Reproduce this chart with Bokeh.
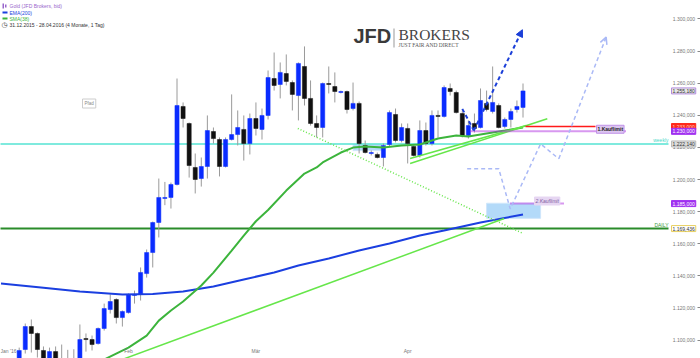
import numpy as np
from bokeh.plotting import figure
from bokeh.models import (LinearAxis, FixedTicker, Label, BoxAnnotation, Arrow,
                          NormalHead, OpenHead, Range1d)
from bokeh.core.properties import value
from bokeh.embed import file_html
from bokeh.resources import INLINE

# ---------------- data ----------------
bar_idx = list(range(87))
opens = [1062, 1061, 1075, 1080, 1094.1, 1108.4, 1104.1, 1093.5, 1085, 1092.8,
         1084, 1087, 1085, 1086, 1100.9, 1100.3, 1097.8, 1107.2, 1119.0, 1125.2,
         1114.0, 1117.1, 1127.8, 1128.4, 1141.4, 1154.5, 1173.2, 1188.2, 1188.8, 1196.9,
         1245.5, 1234.9, 1207.5, 1200.6, 1208.1, 1229.9, 1224.9, 1208.1, 1224.9, 1228.0,
         1231.2, 1222.4, 1238.0, 1231.2, 1239.9, 1262.9, 1259.2, 1266.0, 1260.4, 1252.3,
         1270.4, 1250.5, 1234.9, 1232.4, 1259.8, 1257.9, 1254.2, 1254.8, 1244.2, 1247.4,
         1221.2, 1216.2, 1215.6, 1213.7, 1221.8, 1240.5, 1224.3, 1231.8, 1220.6, 1215.0,
         1230.5, 1222.4, 1239.9, 1239.3, 1256.7, 1254.2, 1241.1, 1227.4, 1234.9, 1232.4,
         1247.4, 1242.4, 1246.1, 1233.0, 1237.4, 1243.6, 1244.9]
highs = [1066, 1079, 1084, 1095.3, 1110.3, 1112.8, 1104.7, 1096.0, 1095.3, 1096.0,
         1097.2, 1093.9, 1094.3, 1109.7, 1104.1, 1102.8, 1107.8, 1122.7, 1128.4, 1126.0,
         1118.4, 1129.0, 1130.8, 1145.2, 1156.4, 1173.8, 1200.6, 1198.5, 1198.1, 1262.9,
         1248.0, 1235.5, 1216.2, 1213.7, 1239.9, 1232.4, 1226.2, 1226.2, 1253.0, 1243.0,
         1239.9, 1241.1, 1248.0, 1244.2, 1267.9, 1279.1, 1272.9, 1277.9, 1261.7, 1272.9,
         1282.9, 1261.7, 1239.9, 1260.4, 1270.4, 1266.7, 1255.4, 1255.4, 1260.4, 1248.6,
         1224.3, 1218.1, 1216.8, 1222.4, 1243.0, 1244.2, 1234.9, 1234.9, 1221.2, 1236.8,
         1235.5, 1243.0, 1243.0, 1258.6, 1259.8, 1255.4, 1243.0, 1236.8, 1241.1, 1256.7,
         1255.4, 1270.4, 1247.4, 1238.6, 1244.2, 1249.2, 1259.8]
lows = [1058, 1059, 1072, 1078, 1091.6, 1092.2, 1089.1, 1083, 1083, 1082,
        1080, 1080, 1081, 1082, 1092.8, 1093.5, 1097.2, 1105.9, 1116.5, 1110.3,
        1108.4, 1116.5, 1122.7, 1124.6, 1138.9, 1145.2, 1163.9, 1184.0, 1181.9, 1196.3,
        1232.4, 1201.2, 1191.3, 1195.6, 1200.6, 1222.4, 1201.9, 1207.5, 1224.3, 1221.2,
        1211.8, 1215.6, 1227.4, 1224.9, 1237.4, 1255.4, 1250.5, 1258.6, 1243.0, 1236.8,
        1246.1, 1233.6, 1226.2, 1226.2, 1253.6, 1248.0, 1253.6, 1241.1, 1243.0, 1216.2,
        1216.2, 1215.0, 1213.1, 1208.1, 1220.6, 1223.1, 1223.1, 1210.0, 1214.3, 1213.7,
        1221.2, 1221.2, 1226.2, 1238.6, 1252.3, 1241.1, 1226.2, 1225.5, 1229.3, 1231.8,
        1242.4, 1241.1, 1231.8, 1231.8, 1232.4, 1241.7, 1238.6]
closes = [1061, 1075, 1079, 1093.5, 1108.4, 1104.1, 1094.1, 1086, 1092.8, 1086,
          1087, 1085, 1087, 1100.3, 1100.3, 1097.2, 1107.2, 1119.6, 1124.0, 1114.0,
          1117.8, 1128.4, 1128.4, 1142.1, 1154.5, 1173.2, 1188.8, 1188.8, 1196.9, 1246.1,
          1238.0, 1208.7, 1200.0, 1208.1, 1230.5, 1225.5, 1208.1, 1224.9, 1228.0, 1232.4,
          1222.4, 1238.0, 1231.8, 1239.9, 1263.5, 1258.6, 1266.7, 1261.1, 1253.0, 1272.3,
          1250.5, 1234.9, 1232.4, 1259.8, 1259.2, 1254.8, 1254.8, 1243.6, 1247.4, 1222.4,
          1216.8, 1216.8, 1213.7, 1221.2, 1241.7, 1224.3, 1232.4, 1222.4, 1215.0, 1230.5,
          1222.4, 1239.9, 1239.3, 1257.3, 1254.8, 1241.7, 1227.4, 1233.6, 1231.8, 1249.2,
          1243.6, 1248.0, 1232.4, 1237.4, 1242.4, 1245.5, 1255.2]

ema_idx = [0, 7, 13, 20, 25, 30, 35, 40, 45, 49, 54, 59, 64, 69, 73, 79, 86]
ema_val = [1135.2, 1132.5, 1130.2, 1128.3, 1128.7, 1130.2, 1133.3, 1137.7, 1142.1,
           1146.4, 1150.8, 1155.8, 1160.1, 1165.1, 1168.2, 1173.2, 1178.2]

sma_idx = [16, 21, 24, 26, 28, 30, 33, 35, 38, 40, 42, 44, 47, 50, 52, 53, 56, 58,
           60, 63, 66, 69, 72, 75, 77, 80, 83, 86]
sma_val = [1086.0, 1095.3, 1102.8, 1112.1, 1118.4, 1124.0, 1134.0, 1142.0, 1155.7,
           1165.0, 1174.0, 1181.0, 1193.1, 1203.7, 1207.5, 1210.6, 1216.8, 1219.9,
           1220.5, 1219.9, 1221.2, 1221.8, 1225.5, 1227.4, 1226.8, 1228.7, 1230.5, 1232.4]

# horizontal levels
weekly_level = 1222.14
daily_level = 1169.436
limit1_level = 1230.0
limit1_red = 1233.0
limit2_level = 1185.0
last_price = 1255.18

# trend lines (bar index, price)
trend_long = ([20.0, 82.9], [1087.9, 1175.7])
trend_dotted = ([48.9, 86.0], [1231.8, 1166.4])
trend_a = ([67.4, 90.0], [1210.0, 1237.8])
trend_b = ([67.4, 86.5], [1213.1, 1233.6])

# projection paths (bar index, price)
proj_blue_x = [76.0, 77.9]
proj_blue_y = [1244.0, 1230.5]
proj_blue_tip = (85.9, 1293.3)
proj_light_x = [76.8, 82.0, 83.9, 88.9, 91.9]
proj_light_y = [1206.7, 1206.7, 1181.7, 1222.2, 1212.9]
proj_light_tip = (99.7, 1288.7)

# zones (bar index, price)
zone_left = [58.0, 80.0]
zone_right = [62.7, 88.9]
zone_bottom = [1218.0, 1175.8]
zone_top = [1221.8, 1185.2]

x_tick_pos = [1.2, 21, 42, 67]
x_tick_labels = ["Jan '16", "Feb", "Mär", "Apr"]
y_ticks = [1100, 1120, 1140, 1160, 1180, 1200, 1220, 1240, 1260, 1280, 1300]
y_tick_labels = ["1.100,000", "1.120,000", "1.140,000", "1.160,000", "1.180,000",
                 "1.200,000", "1.220,000", "1.240,000", "1.260,000", "1.280,000",
                 "1.300,000"]

# ---------------- layout helpers ----------------
W, H = 700, 358
PX = 6.07
X0 = -0.08
def xi(px):
    return X0 + px / PX
def sy(py):
    return H - py

FONT = "Liberation Sans"

p = figure(width=W, height=H, output_backend="svg", toolbar_location=None,
           x_axis_location=None, y_axis_location=None,
           x_range=Range1d(X0, X0 + W / PX), y_range=Range1d(1088.5, 1311.5),
           min_border=0, outline_line_color=None, background_fill_color="white")
p.xgrid.visible = False
p.ygrid.visible = False

yax = LinearAxis(fixed_location=xi(699.5), ticker=FixedTicker(ticks=y_ticks),
                 major_label_overrides=dict(zip(y_ticks, y_tick_labels)),
                 axis_line_color="#c8c8c8", major_tick_line_color="#888888",
                 major_tick_out=3, major_tick_in=0, minor_tick_line_color=None,
                 major_label_text_font_size="5px", major_label_text_color="#777777",
                 major_label_text_font=FONT, major_label_standoff=2)
p.add_layout(yax, "left")

xax = LinearAxis(fixed_location=1095.5, ticker=FixedTicker(ticks=x_tick_pos),
                 major_label_overrides=dict(zip(x_tick_pos, x_tick_labels)),
                 axis_line_color=None, major_tick_line_color=None,
                 major_tick_out=0, major_tick_in=0,
                 minor_tick_line_color=None, minor_tick_out=0, minor_tick_in=0,
                 major_label_text_font_size="5px",
                 major_label_text_color="#777777", major_label_text_font=FONT,
                 major_label_standoff=1)
p.add_layout(xax, "below")

# zones
p.quad(left=zone_left, right=zone_right, bottom=zone_bottom, top=zone_top,
       fill_color="#a6d4f8", fill_alpha=0.85, line_color="#cfe6fb")

# horizontal levels
p.segment(x0=[X0 - 1], y0=[weekly_level], x1=[xi(668)], y1=[weekly_level],
          line_color="#55e3d3", line_width=1.5)
p.segment(x0=[X0 - 1], y0=[daily_level], x1=[xi(668)], y1=[daily_level],
          line_color="#2a8c2a", line_width=2)

# candles
tops = [max(o, c) for o, c in zip(opens, closes)]
bots = [min(o, c) for o, c in zip(opens, closes)]
bots = [b if t - b > 0.6 else t - 0.6 for t, b in zip(tops, bots)]
cols = ["#0a2cff" if c >= o else "#111111" for o, c in zip(opens, closes)]
p.segment(x0=bar_idx, y0=highs, x1=bar_idx, y1=lows, line_color="#9a9a9a", line_width=1)
p.vbar(x=bar_idx, width=0.68, top=tops, bottom=bots, fill_color=cols, line_color=cols,
       line_width=0.5)

# moving averages
p.line(ema_idx, ema_val, line_color="#1b3fe0", line_width=2)
p.line(sma_idx, sma_val, line_color="#3cb43c", line_width=2)

# trend lines
p.line(*trend_long, line_color="#66e64a", line_width=1.5)
p.line(*trend_dotted, line_color="#66e64a", line_width=1.5, line_dash="1 2")
p.line(*trend_a, line_color="#66e64a", line_width=1.5)
p.line(*trend_b, line_color="#66e64a", line_width=1.5)

# limit lines
p.segment(x0=[xi(525)], y0=[limit1_red], x1=[xi(595)], y1=[limit1_red],
          line_color="#ff1a1a", line_width=1.5)
p.segment(x0=[xi(470)], y0=[limit1_level], x1=[xi(625)], y1=[limit1_level],
          line_color="#b030e0", line_width=2, line_dash="1 1")
p.segment(x0=[xi(510)], y0=[limit2_level], x1=[xi(563)], y1=[limit2_level],
          line_color="#b030e0", line_width=2, line_dash="1 1")

# projections
p.line(proj_blue_x, proj_blue_y, line_color="#1b3fd8", line_width=2, line_dash="4 3")
p.add_layout(Arrow(x_start=proj_blue_x[-1], y_start=proj_blue_y[-1],
                   x_end=proj_blue_tip[0], y_end=proj_blue_tip[1],
                   line_color="#1b3fd8", line_width=2, line_dash="4 3",
                   end=NormalHead(size=7, fill_color="#1b3fd8", line_color="#1b3fd8")))
p.line(proj_light_x, proj_light_y, line_color="#aab9f6", line_width=1.5, line_dash="4 3")
p.add_layout(Arrow(x_start=proj_light_x[-1], y_start=proj_light_y[-1],
                   x_end=proj_light_tip[0], y_end=proj_light_tip[1],
                   line_color="#aab9f6", line_width=1.5, line_dash="4 3",
                   end=OpenHead(size=7, line_color="#aab9f6", line_width=1.5)))

# level texts
p.add_layout(Label(x=668, x_units="screen", y=weekly_level, text="weekly",
                   text_align="right", text_baseline="bottom", text_font_size="5px",
                   text_color="#49d9c9", text_font=FONT, y_offset=1))
p.add_layout(Label(x=668, x_units="screen", y=daily_level, text="DAILY",
                   text_align="right", text_baseline="bottom", text_font_size="5px",
                   text_color="#3a9a3a", text_font=FONT, y_offset=1))

p.add_layout(Label(x=596, x_units="screen", y=1231.3, text="1.Kauflimit",
                   text_baseline="middle", text_font_size="5px", text_font_style="bold",
                   text_color="#222222", text_font=FONT, background_fill_color="#dcc6f0",
                   border_line_color="#c090e8", padding=1))
p.add_layout(Label(x=534, x_units="screen", y=1186.6, text="2.Kauflimit",
                   text_baseline="middle", text_font_size="5px", text_font_style="italic",
                   text_color="#8060a0", text_font=FONT, background_fill_color="#e6d6f2",
                   border_line_color="#e6d6f2", padding=1))

# price tags on the axis
tag_values = [last_price, limit1_red, limit1_level, weekly_level, limit2_level, daily_level]
tag_texts = ["1.255,180", "1.233,000", "1.230,000", "1.222,140", "1.185,000", "1.169,436"]
tag_fill = ["#e6e6e6", "#ff2a1a", "#a030f0", "#dcdcdc", "#a030f0", "#ffffff"]
tag_border = ["#b48cdc", "#ff2a1a", "#a030f0", "#bbbbbb", "#a030f0", "#e8d060"]
tag_text_col = ["#333333", "#ffd0c0", "#ffffff", "#333333", "#ffffff", "#333333"]
for v, t, f, b, tc in zip(tag_values, tag_texts, tag_fill, tag_border, tag_text_col):
    p.add_layout(Label(x=671, x_units="screen", y=v, text=t, text_baseline="middle",
                       text_font_size="5px", text_font=FONT, text_color=tc,
                       background_fill_color=f, border_line_color=b, padding=1))

# legend (top-left)
def sbox(l, r, t, b, color):
    return BoxAnnotation(left=l, right=r, top=sy(t), bottom=sy(b), left_units="screen",
                         right_units="screen", top_units="screen", bottom_units="screen",
                         fill_color=color, fill_alpha=1, line_color=None)
p.add_layout(sbox(2, 3.5, 3, 8, "#9966cc"))
p.add_layout(sbox(4.5, 6, 4, 7, "#9966cc"))
p.add_layout(sbox(2, 7, 11, 13, "#1b3fe0"))
p.add_layout(sbox(2, 7, 17, 19, "#3cb43c"))
legend_texts = ["Gold (JFD Brokers, bid)", "EMA(200)", "SMA(38)",
                "31.12.2015 - 28.04.2016 (4 Monate, 1 Tag)"]
legend_cols = ["#9966cc", "#1b3fe0", "#3cb43c", "#333333"]
legend_py = [5, 12, 18, 24.5]
for t, c, py in zip(legend_texts, legend_cols, legend_py):
    p.add_layout(Label(x=9, y=sy(py), x_units="screen", y_units="screen", text=t,
                       text_baseline="middle", text_font_size="5px", text_color=c,
                       text_font=FONT))
p.add_layout(Label(x=1, y=sy(24.5), x_units="screen", y_units="screen", text="◷",
                   text_baseline="middle", text_font_size="7px", text_color="#333333",
                   text_font="DejaVu Sans"))

# logo
p.add_layout(Label(x=353, y=sy(24.5), x_units="screen", y_units="screen", text="JFD",
                   text_baseline="top", text_font_size="20px",
                   text_font_style="bold", text_color="#3a3a3a", text_font=FONT))
p.add_layout(sbox(393, 394, 28, 47, "#9a9a9a"))
p.add_layout(Label(x=398, y=sy(25), x_units="screen", y_units="screen", text="BROKERS",
                   text_baseline="top", text_font_size="15.5px", text_color="#444444",
                   text_font="Liberation Serif"))
p.add_layout(Label(x=398, y=sy(41.5), x_units="screen", y_units="screen",
                   text="JUST FAIR AND DIRECT", text_baseline="top",
                   text_font_size="5.5px", text_color="#555555", text_font="Liberation Serif"))

# "Pfad" box
p.add_layout(Label(x=82, y=sy(103), x_units="screen", y_units="screen", text="Pfad",
                   text_baseline="middle", text_font_size="4.5px", text_color="#888888",
                   text_font=FONT, background_fill_color="#ffffff",
                   border_line_color="#cccccc", padding=2))

open("out.html", "w").write(file_html(p, INLINE))
